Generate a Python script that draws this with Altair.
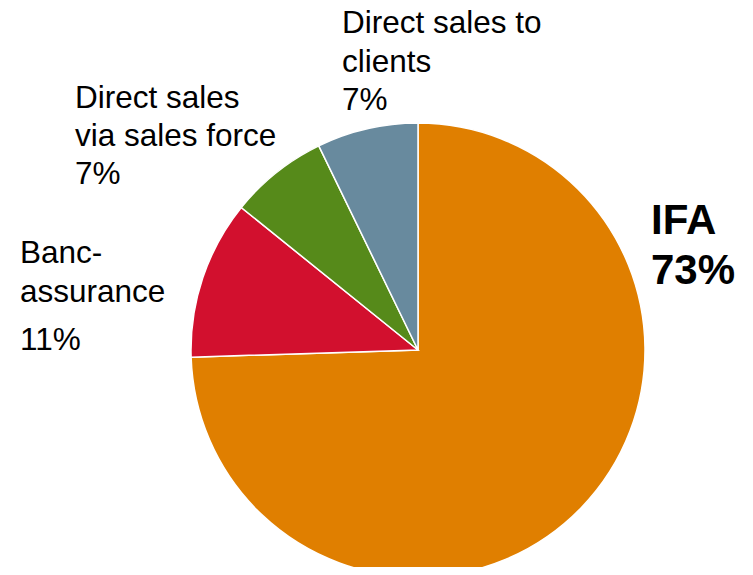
import altair as alt
import pandas as pd

categories = ["IFA", "Banc-assurance", "Direct sales via sales force", "Direct sales to clients"]
shares = [74.5, 11.3, 7.0, 7.2]
order = [1, 2, 3, 4]
colors = ["#E07F00", "#D2102E", "#568A1A", "#688A9E"]

df = pd.DataFrame({"category": categories, "share": shares, "order": order})

W, H = 737, 559
cx, cy, R = 410, 342, 227
FONT = "Liberation Sans"

pie = alt.Chart(df).mark_arc(radius=R, stroke="white", strokeWidth=1.5).encode(
    theta=alt.Theta("share:Q", stack=True),
    order=alt.Order("order:Q"),
    color=alt.Color("category:N", scale=alt.Scale(domain=categories, range=colors), legend=None),
    x=alt.value(cx),
    y=alt.value(cy),
)

def label(text, x, y, size=31.5, weight="normal", lh=38.3):
    return alt.Chart(pd.DataFrame({"t": [text]})).mark_text(
        align="left", baseline="alphabetic", font=FONT, fontSize=size,
        fontWeight=weight, color="black", lineBreak="\n", lineHeight=lh,
    ).encode(text="t:N", x=alt.value(x), y=alt.value(y))

labels = [
    label("Direct sales to\nclients\n7%", 334, 25.3),
    label("Direct sales\nvia sales force\n7%", 67, 99.7),
    label("Banc-\nassurance", 12, 255.3),
    label("11%", 12, 342),
    label("IFA\n73%", 643, 226.3, size=42, weight="bold", lh=50),
]

chart = alt.layer(pie, *labels).properties(
    width=W, height=H, padding=0, autosize=alt.AutoSizeParams(type="none")
).configure_view(stroke=None)

chart.save("out.html", embed_options={"renderer": "svg", "actions": False})
